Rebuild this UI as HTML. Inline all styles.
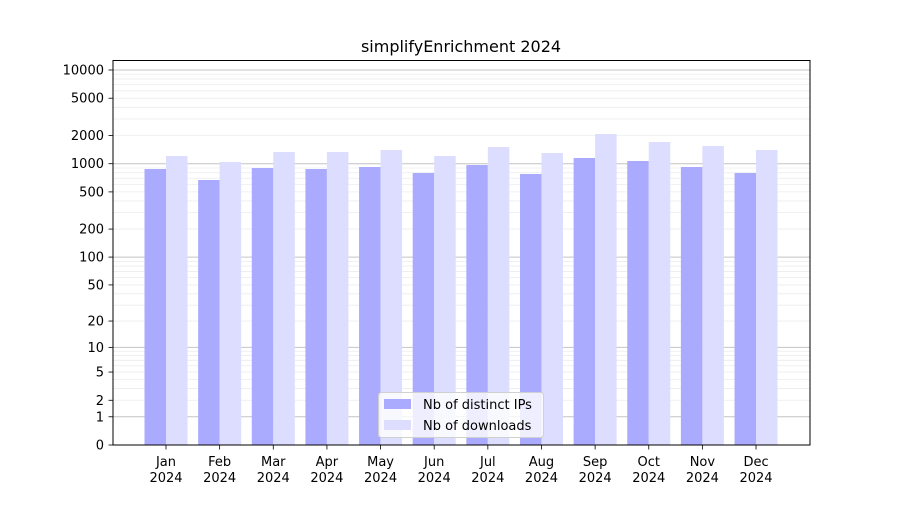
<!DOCTYPE html>
<html><head><meta charset="utf-8"><style>
body{margin:0;background:#fff;}
svg text{font-family:"DejaVu Sans","Liberation Sans",sans-serif;fill:#000;}
</style></head><body>
<svg id="s" width="900" height="500" xmlns="http://www.w3.org/2000/svg">
<rect width="900" height="500" fill="#fff"/>
<g id="grid"></g><g id="bars"></g><g id="ax"></g>
</svg>
<script>
const NS="http://www.w3.org/2000/svg";
function el(p,t,a,txt){const e=document.createElementNS(NS,t);for(const k in a)e.setAttribute(k,a[k]);if(txt!=null)e.textContent=txt;document.getElementById(p).appendChild(e);return e;}
const Y=v=>445-93.75*Math.log10(v+1);
const L=113,R=810;
// minor grid
for(let d=1;d<=10000;d*=10){for(let m=1;m<10;m++){const v=d*m;if(v>10000)break;const y=Y(v);
 const major=(m==1);
 el("grid","line",{x1:L,x2:R,y1:y,y2:y,stroke:major?"#c4c4c4":"#ececec","stroke-width":major?1:0.8});}}
// bars
const ip=[169,180,168,169,167,173,165,174,158,161,167,173];
const dl=[156,162,152,152,150,156,147,153,134,142,146,150];
const mon=["Jan","Feb","Mar","Apr","May","Jun","Jul","Aug","Sep","Oct","Nov","Dec"];
for(let i=0;i<12;i++){const c=166+53.64*i;
 el("bars","rect",{x:c-21.5,y:ip[i],width:21.5,height:445-ip[i],fill:"#aaaaff"});
 el("bars","rect",{x:c,y:dl[i],width:21.5,height:445-dl[i],fill:"#ddddff"});
 el("ax","line",{x1:c,x2:c,y1:445,y2:449.5,stroke:"#000","stroke-width":0.8});
 el("ax","text",{x:c,y:466,"text-anchor":"middle","font-size":13},mon[i]);
 el("ax","text",{x:c,y:482,"text-anchor":"middle","font-size":13},"2024");
}
// y ticks
[0,1,2,5,10,20,50,100,200,500,1000,2000,5000,10000].forEach(v=>{const y=Y(v);
 el("ax","line",{x1:108.5,x2:113,y1:y,y2:y,stroke:"#000","stroke-width":0.8});
 el("ax","text",{x:104,y:y+4.5,"text-anchor":"end","font-size":13},String(v));});
el("ax","rect",{x:113,y:60.5,width:697,height:384.5,fill:"none",stroke:"#000","stroke-width":1});
el("ax","text",{x:461,y:52,"text-anchor":"middle","font-size":16},"simplifyEnrichment 2024");
// legend
el("ax","rect",{x:378.5,y:392.5,width:165,height:45,rx:3,fill:"#fff","fill-opacity":0.8,stroke:"#d0d0d0"});
el("ax","rect",{x:384,y:399,width:27,height:10,fill:"#aaaaff"});
el("ax","rect",{x:384,y:420,width:27,height:10,fill:"#ddddff"});
el("ax","text",{x:423,y:409,"font-size":13},"Nb of distinct IPs");
el("ax","text",{x:423,y:430,"font-size":13},"Nb of downloads");
</script>
</body></html>
